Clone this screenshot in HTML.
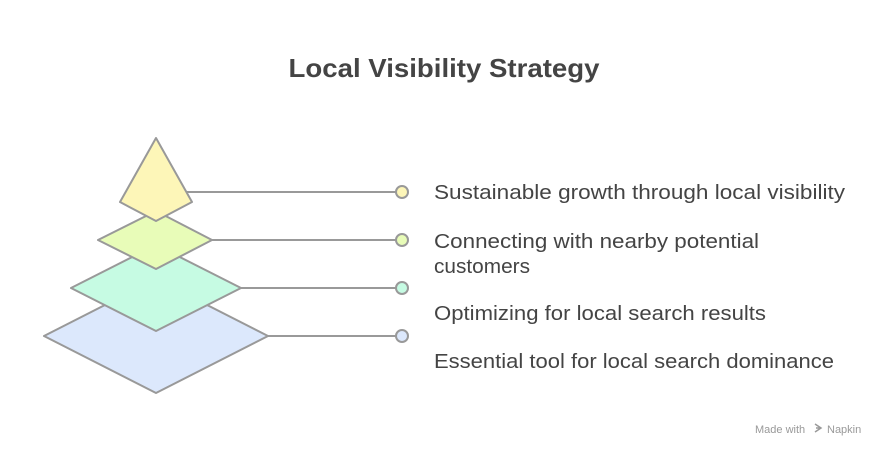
<!DOCTYPE html>
<html><head><meta charset="utf-8"><style>
body{margin:0;background:#fff;}
svg text{font-family:"Liberation Sans",sans-serif;}
</style></head><body>
<svg width="888" height="456" viewBox="0 0 888 456" xmlns="http://www.w3.org/2000/svg">
<text x="444" y="77" text-anchor="middle" font-size="26" font-weight="bold" fill="#444" textLength="311" lengthAdjust="spacingAndGlyphs">Local Visibility Strategy</text>
<g stroke="#999" stroke-width="2" stroke-linejoin="round">
<line x1="268" y1="336" x2="396" y2="336"/>
<line x1="241" y1="288" x2="396" y2="288"/>
<line x1="212" y1="240" x2="396" y2="240"/>
<line x1="180" y1="192" x2="396" y2="192"/>
<polygon points="44,336 156,279 268,336 156,393" fill="#dce8fc"/>
<polygon points="71,288 156,245 241,288 156,331" fill="#c6fbe3"/>
<polygon points="98,240 156,211 212,240 156,269" fill="#e8fcb8"/>
<polygon points="156,138 192,202 156,221 120,202" fill="#fdf6b8"/>
<circle cx="402" cy="192" r="6" fill="#fdf6b8"/>
<circle cx="402" cy="240" r="6" fill="#e8fcb8"/>
<circle cx="402" cy="288" r="6" fill="#c6fbe3"/>
<circle cx="402" cy="336" r="6" fill="#dce8fc"/>
</g>
<g font-size="20" fill="#444" lengthAdjust="spacingAndGlyphs">
<text x="434" y="199" textLength="411" lengthAdjust="spacingAndGlyphs">Sustainable growth through local visibility</text>
<text x="434" y="248" textLength="325" lengthAdjust="spacingAndGlyphs">Connecting with nearby potential</text>
<text x="434" y="273" textLength="96" lengthAdjust="spacingAndGlyphs">customers</text>
<text x="434" y="320" textLength="332" lengthAdjust="spacingAndGlyphs">Optimizing for local search results</text>
<text x="434" y="368" textLength="400" lengthAdjust="spacingAndGlyphs">Essential tool for local search dominance</text>
</g>
<text x="755" y="433" font-size="11" fill="#999">Made with</text>
<text x="827" y="433" font-size="11" fill="#999">Napkin</text>
<path d="M815 424 l6 4 l-6 4 M816 428 h4" stroke="#999" fill="none" stroke-width="1.5"/>
</svg>
</body></html>
